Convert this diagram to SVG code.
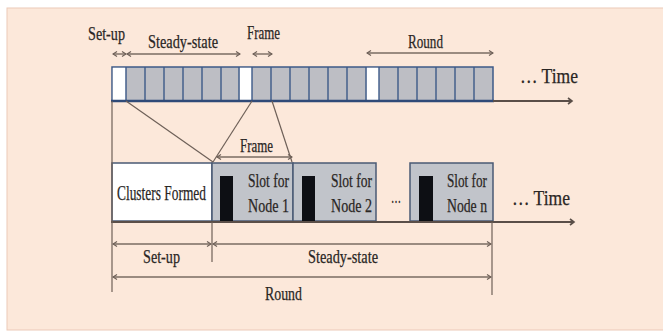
<svg xmlns="http://www.w3.org/2000/svg" width="663" height="331" viewBox="0 0 663 331">
<defs>
<marker id="ah" markerWidth="6" markerHeight="6" refX="5" refY="3" orient="auto" markerUnits="userSpaceOnUse">
<path d="M1,0.5 L5,3 L1,5.5" fill="none" stroke="#6e6058" stroke-width="1.2"/>
</marker>
<marker id="ahs" markerWidth="6" markerHeight="6" refX="1" refY="3" orient="auto" markerUnits="userSpaceOnUse">
<path d="M5,0.5 L1,3 L5,5.5" fill="none" stroke="#6e6058" stroke-width="1.2"/>
</marker>
<marker id="ta" markerWidth="8" markerHeight="8" refX="6" refY="4" orient="auto" markerUnits="userSpaceOnUse">
<path d="M2,1 L6,4 L2,7" fill="none" stroke="#5a4e48" stroke-width="1.6"/>
</marker>
</defs>
<style>
text{font-family:"Liberation Serif","Times New Roman",serif;fill:#2a2624;stroke:#2a2624;stroke-width:0.25}
.lbl{font-size:18.5px}
.big{font-size:21px}
.dim{stroke:#7a6c62;stroke-width:1.4;fill:none}
.dimA{stroke:#7a6c62;stroke-width:1.4;fill:none;marker-start:url(#ahs);marker-end:url(#ah)}
.conn{stroke:#6e6058;stroke-width:1.2;fill:none}
.cell{stroke:#3d5a88;stroke-width:1.4}
.slot{fill:#c1c4ca;stroke:#4a5a74;stroke-width:1.5}
.blk{fill:#0d0f14}
.axis{stroke:#5a4e48;stroke-width:2;fill:none;marker-end:url(#ta)}
</style>
<rect width="663" height="331" fill="#ffffff"/>
<rect x="7" y="8" width="657" height="322" fill="#fce8da" stroke="#ecc9b8" stroke-width="1"/>

<g id="top-bar">
<rect x="112" y="67" width="381" height="34" fill="#bdbec4" stroke="#3d5a88" stroke-width="1.5"/>
<rect x="112.8" y="67.8" width="13" height="32.5" fill="#ffffff"/>
<rect x="239.5" y="67.8" width="12.5" height="32.5" fill="#ffffff"/>
<rect x="366.5" y="67.8" width="12.5" height="32.5" fill="#ffffff"/>
<g class="cell">
<line x1="126" y1="67" x2="126" y2="101"/><line x1="145" y1="67" x2="145" y2="101"/><line x1="164" y1="67" x2="164" y2="101"/><line x1="183" y1="67" x2="183" y2="101"/><line x1="202" y1="67" x2="202" y2="101"/><line x1="221" y1="67" x2="221" y2="101"/><line x1="239" y1="67" x2="239" y2="101"/>
<line x1="252" y1="67" x2="252" y2="101"/><line x1="271" y1="67" x2="271" y2="101"/><line x1="290" y1="67" x2="290" y2="101"/><line x1="309" y1="67" x2="309" y2="101"/><line x1="328" y1="67" x2="328" y2="101"/><line x1="347" y1="67" x2="347" y2="101"/><line x1="366" y1="67" x2="366" y2="101"/>
<line x1="379" y1="67" x2="379" y2="101"/><line x1="398" y1="67" x2="398" y2="101"/><line x1="417" y1="67" x2="417" y2="101"/><line x1="436" y1="67" x2="436" y2="101"/><line x1="455" y1="67" x2="455" y2="101"/><line x1="474" y1="67" x2="474" y2="101"/>
</g>
<line x1="111" y1="101" x2="494" y2="101" stroke="#2f4a78" stroke-width="2.5"/>
</g>

<g id="top-labels">
<text class="lbl" x="88" y="40" textLength="37" lengthAdjust="spacingAndGlyphs">Set-up</text>
<text class="lbl" x="148" y="48" textLength="70" lengthAdjust="spacingAndGlyphs">Steady-state</text>
<text class="lbl" x="247" y="39" textLength="33" lengthAdjust="spacingAndGlyphs">Frame</text>
<text class="lbl" x="408" y="48" textLength="35" lengthAdjust="spacingAndGlyphs">Round</text>
<text class="big" x="520" y="83" textLength="58" lengthAdjust="spacingAndGlyphs">… Time</text>
</g>

<g id="bottom-boxes">
<rect id="clusters" x="112" y="163" width="100" height="58" fill="#ffffff" stroke="#4a5a74" stroke-width="1.5"/>
<text class="big" x="117" y="200" textLength="89" lengthAdjust="spacingAndGlyphs" font-size="20">Clusters Formed</text>
<g id="slot1">
<rect class="slot" x="212" y="163" width="81" height="58"/>
<rect class="blk" x="220" y="176" width="13" height="45"/>
<text class="lbl" x="248" y="187" textLength="41" lengthAdjust="spacingAndGlyphs">Slot for</text>
<text class="lbl" x="248" y="212" textLength="41" lengthAdjust="spacingAndGlyphs">Node 1</text>
</g>
<g id="slot2">
<rect class="slot" x="293" y="163" width="83" height="58"/>
<rect class="blk" x="302" y="176" width="13" height="45"/>
<text class="lbl" x="331" y="187" textLength="41" lengthAdjust="spacingAndGlyphs">Slot for</text>
<text class="lbl" x="331" y="212" textLength="41" lengthAdjust="spacingAndGlyphs">Node 2</text>
</g>
<text class="lbl" x="391" y="203" textLength="10" lengthAdjust="spacingAndGlyphs" font-size="12">…</text>
<g id="slotn">
<rect class="slot" x="410" y="163" width="83" height="58"/>
<rect class="blk" x="419" y="176" width="14" height="45"/>
<text class="lbl" x="447" y="187" textLength="40" lengthAdjust="spacingAndGlyphs">Slot for</text>
<text class="lbl" x="447" y="212" textLength="40" lengthAdjust="spacingAndGlyphs">Node n</text>
</g>
<text class="big" x="512" y="205" textLength="58" lengthAdjust="spacingAndGlyphs">… Time</text>
</g>

<g id="connectors">
<line class="axis" x1="493" y1="101" x2="572" y2="101"/>
<line class="axis" x1="111" y1="222" x2="574" y2="222"/>
<line class="conn" x1="112" y1="101" x2="112" y2="292"/>
<line class="conn" x1="126" y1="101" x2="213" y2="162"/>
<line class="conn" x1="252" y1="101" x2="213" y2="162"/>
<line class="conn" x1="272" y1="101" x2="292" y2="162"/>
<line class="conn" x1="212" y1="222" x2="212" y2="262"/>
<line class="conn" x1="492" y1="222" x2="492" y2="295"/>
<line class="dimA" x1="113" y1="54" x2="126" y2="54"/>
<line class="dimA" x1="127" y1="54" x2="240" y2="54"/>
<line class="dimA" x1="253" y1="54" x2="272" y2="54"/>
<line class="dimA" x1="367" y1="53" x2="493" y2="53"/>
<line class="dimA" x1="217" y1="157" x2="292" y2="157"/>
<text class="lbl" x="240" y="152" textLength="33" lengthAdjust="spacingAndGlyphs">Frame</text>
<line class="dimA" x1="113" y1="244" x2="211" y2="244"/>
<line class="dimA" x1="213" y1="244" x2="491" y2="244"/>
<line class="dimA" x1="113" y1="277" x2="491" y2="277"/>
<text class="lbl" x="143" y="263" textLength="37" lengthAdjust="spacingAndGlyphs">Set-up</text>
<text class="lbl" x="308" y="263" textLength="70" lengthAdjust="spacingAndGlyphs">Steady-state</text>
<text class="lbl" x="265" y="300" textLength="37" lengthAdjust="spacingAndGlyphs">Round</text>
</g>
</svg>
